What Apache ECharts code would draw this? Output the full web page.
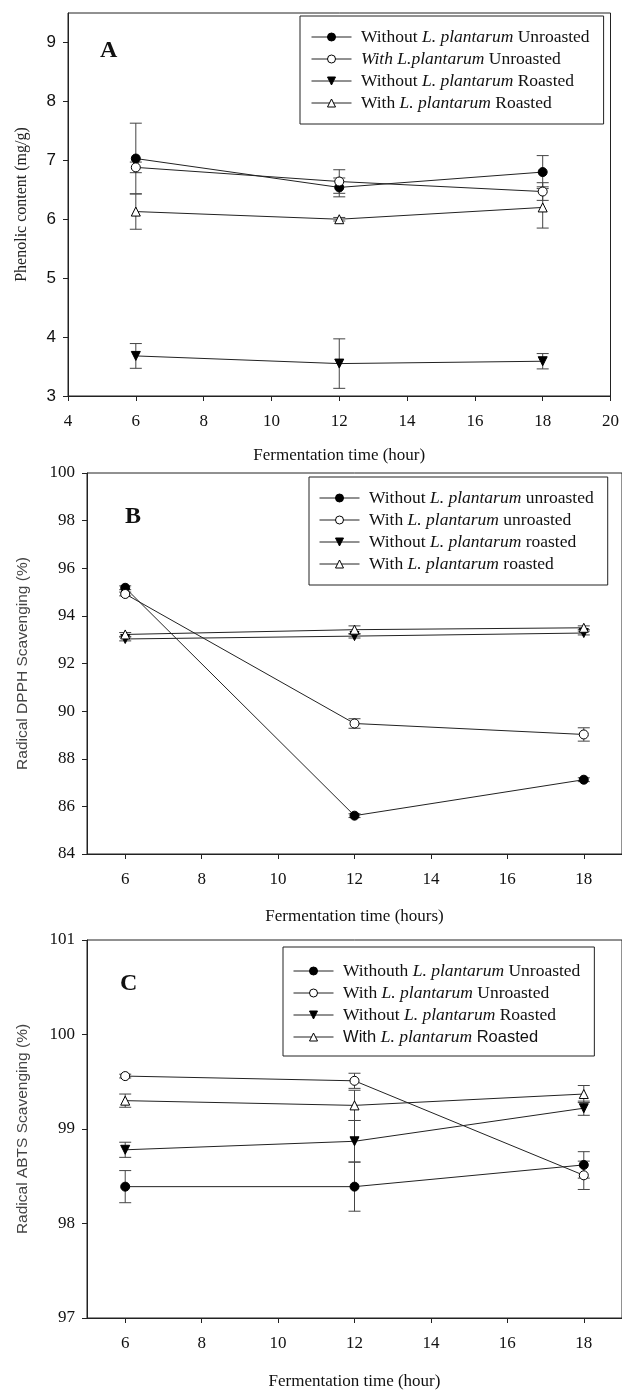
<!DOCTYPE html>
<html lang="en">
<head>
<meta charset="UTF-8">
<title>Fermentation panels</title>
<script src="https://cdn.jsdelivr.net/npm/echarts@6/dist/echarts.min.js"></script>
<style>
  html, body { margin: 0; padding: 0; background: #fff; }
</style>
</head>
<body>
<div id="main" style="width: 622px; height: 1391px;"></div>
<script type="text/javascript">
// fermentation hours (same for all three panels)
var hours = [6, 12, 18];

// A - phenolic content (mg/g)
var phenolWithoutUnroasted = [7.03, 6.54, 6.80];
var phenolWithoutUnroastedErr = [0.6, 0.16, 0.28];
var phenolWithUnroasted = [6.88, 6.64, 6.47];
var phenolWithUnroastedErr = [0.09, 0.2, 0.15];
var phenolWithoutRoasted = [3.68, 3.55, 3.59];
var phenolWithoutRoastedErr = [0.21, 0.42, 0.13];
var phenolWithRoasted = [6.13, 6.0, 6.2];
var phenolWithRoastedErr = [0.3, 0.03, 0.35];

// B - DPPH scavenging (%)
var dpphWithoutUnroasted = [95.18, 85.61, 87.12];
var dpphWithoutUnroastedErr = [0.08, 0.08, 0.08];
var dpphWithUnroasted = [94.92, 89.48, 89.02];
var dpphWithUnroastedErr = [0.08, 0.2, 0.28];
var dpphWithoutRoasted = [93.03, 93.15, 93.28];
var dpphWithoutRoastedErr = [0.08, 0.08, 0.08];
var dpphWithRoasted = [93.22, 93.42, 93.5];
var dpphWithRoastedErr = [0.08, 0.16, 0.08];

// C - ABTS scavenging (%)
var abtsWithoutUnroasted = [98.39, 98.39, 98.62];
var abtsWithoutUnroastedErr = [0.17, 0.26, 0.14];
var abtsWithUnroasted = [99.56, 99.51, 98.51];
var abtsWithUnroastedErr = [0.02, 0.08, 0.15];
var abtsWithoutRoasted = [98.78, 98.87, 99.22];
var abtsWithoutRoastedErr = [0.08, 0.22, 0.075];
var abtsWithRoasted = [99.3, 99.25, 99.37];
var abtsWithRoastedErr = [0.07, 0.16, 0.09];

// tick labels
var xTicksA = [4, 6, 8, 10, 12, 14, 16, 18, 20];
var xTicksBC = [6, 8, 10, 12, 14, 16, 18];
var yTicksA = [3, 4, 5, 6, 7, 8, 9];
var yTicksB = [84, 86, 88, 90, 92, 94, 96, 98, 100];
var yTicksC = [97, 98, 99, 100, 101];

// legend texts (rich markup for italics)
var legendA = {
    A1: ' Without {i|L. plantarum} Unroasted',
    A2: ' {i|With L.plantarum} Unroasted',
    A3: ' Without {i|L. plantarum} Roasted',
    A4: ' With {i|L. plantarum} Roasted'
};
var legendB = {
    B1: ' Without {i|L. plantarum} unroasted',
    B2: ' With {i|L. plantarum} unroasted',
    B3: ' Without {i|L. plantarum} roasted',
    B4: ' With {i|L. plantarum} roasted'
};
var legendC = {
    C1: ' Withouth {i|L. plantarum} Unroasted',
    C2: ' With {i|L. plantarum} Unroasted',
    C3: ' Without {i|L. plantarum} Roasted',
    C4: '{s| With }{si|L. plantarum}{s| Roasted}'
};

var SERIF = 'Liberation Serif';
var SANS = 'Liberation Sans';
var INK = '#222';
var downTri = 'path://M0,0 L10,0 L5,10 Z';

var markers = [
    { symbol: 'circle', itemStyle: { color: '#000', borderColor: '#000', borderWidth: 1 } },
    { symbol: 'circle', itemStyle: { color: '#fff', borderColor: '#000', borderWidth: 1 } },
    { symbol: downTri, itemStyle: { color: '#000', borderColor: '#000', borderWidth: 1 } },
    { symbol: 'triangle', itemStyle: { color: '#fff', borderColor: '#000', borderWidth: 1 } }
];

function lineSeries(name, gi, idx, vals) {
    return {
        name: name,
        type: 'line',
        xAxisIndex: gi,
        yAxisIndex: gi,
        data: hours.map(function (h, i) { return [h, vals[i]]; }),
        symbol: markers[idx].symbol,
        symbolSize: 9,
        itemStyle: markers[idx].itemStyle,
        lineStyle: { color: INK, width: 1 },
        z: 3,
        animation: false
    };
}

function errSeries(gi, vals, errs) {
    return {
        type: 'custom',
        xAxisIndex: gi,
        yAxisIndex: gi,
        data: hours.map(function (h, i) { return [h, vals[i] - errs[i], vals[i] + errs[i]]; }),
        encode: { x: 0, y: [1, 2] },
        z: 2,
        silent: true,
        animation: false,
        renderItem: function (params, api) {
            var top = api.coord([api.value(0), api.value(2)]);
            var bot = api.coord([api.value(0), api.value(1)]);
            var w = 6;
            var st = { stroke: '#444', lineWidth: 1 };
            return {
                type: 'group',
                children: [
                    { type: 'line', shape: { x1: top[0], y1: top[1], x2: bot[0], y2: bot[1] }, style: st },
                    { type: 'line', shape: { x1: top[0] - w, y1: top[1], x2: top[0] + w, y2: top[1] }, style: st },
                    { type: 'line', shape: { x1: bot[0] - w, y1: bot[1], x2: bot[0] + w, y2: bot[1] }, style: st }
                ]
            };
        }
    };
}

function xAxis(gi, min, max, ticks, title, gap) {
    return {
        type: 'value', gridIndex: gi, min: min, max: max,
        splitLine: { show: false },
        axisLine: { lineStyle: { color: INK, width: 1 } },
        axisTick: { length: 5, lineStyle: { color: INK }, customValues: ticks },
        axisLabel: { customValues: ticks, margin: 17, fontFamily: SERIF, fontSize: 17, color: '#111' },
        name: title, nameLocation: 'middle', nameGap: gap,
        nameTextStyle: { fontFamily: SERIF, fontSize: 17, color: '#111' }
    };
}

function yAxis(gi, min, max, ticks, title, gap, labelFont, titleFont, titleSize, titleColor) {
    return {
        type: 'value', gridIndex: gi, min: min, max: max,
        splitLine: { show: false },
        axisLine: { show: true, lineStyle: { color: INK, width: 1 } },
        axisTick: { show: true, length: 5, lineStyle: { color: INK }, customValues: ticks },
        axisLabel: { customValues: ticks, margin: 12, fontFamily: labelFont, fontSize: 17, color: '#111' },
        name: title, nameLocation: 'middle', nameGap: gap, nameRotate: 90,
        nameTextStyle: { fontFamily: titleFont, fontSize: titleSize, color: titleColor }
    };
}

function legend(keys, texts, left, top, padding) {
    return {
        orient: 'vertical', left: left, top: top,
        itemWidth: 40, itemHeight: 10, itemGap: 2,
        padding: padding,
        borderColor: INK, borderWidth: 1, backgroundColor: '#fff',
        selectedMode: false,
        lineStyle: { width: 1, color: INK },
        itemStyle: { borderWidth: 1, borderColor: '#000' },
        data: keys,
        formatter: function (n) { return texts[n]; },
        textStyle: {
            fontFamily: SERIF, fontSize: 17.5, color: '#111', lineHeight: 20,
            rich: {
                i: { fontFamily: SERIF, fontStyle: 'italic', fontSize: 17.5, color: '#111', lineHeight: 20 },
                s: { fontFamily: SANS, fontSize: 16.5, color: '#111', lineHeight: 20 },
                si: { fontFamily: SERIF, fontStyle: 'italic', fontSize: 17.5, color: '#111', lineHeight: 20 }
            }
        }
    };
}

var myChart = echarts.init(document.getElementById('main'), null, { renderer: 'canvas' });

var option = {
    backgroundColor: '#fff',
    animation: false,
    grid: [
        { left: 68, top: 13, width: 544, height: 383, show: true, borderColor: INK, borderWidth: 1 },
        { left: 87, top: 473, width: 542, height: 381, show: true, borderColor: INK, borderWidth: 1 },
        { left: 87, top: 940, width: 542, height: 381, show: true, borderColor: INK, borderWidth: 1 }
    ],
    xAxis: [
        xAxis(0, 4, 20, xTicksA, 'Fermentation time (hour)', 51),
        xAxis(1, 5, 19, xTicksBC, 'Fermentation time (hours)', 54),
        xAxis(2, 5, 19, xTicksBC, 'Fermentation time (hour)', 55)
    ],
    yAxis: [
        yAxis(0, 3, 9.5, yTicksA, 'Phenolic content (mg/g)', 38, SANS, SERIF, 16, '#222'),
        yAxis(1, 84, 100, yTicksB, 'Radical DPPH Scavenging (%)', 56, SERIF, SANS, 15.5, '#444'),
        yAxis(2, 97, 101, yTicksC, 'Radical ABTS Scavenging (%)', 56, SERIF, SANS, 15.5, '#444')
    ],
    legend: [
        legend(['A1', 'A2', 'A3', 'A4'], legendA, 300, 16, [11, 14, 11, 11]),
        legend(['B1', 'B2', 'B3', 'B4'], legendB, 309, 477, [11, 14, 11, 10]),
        legend(['C1', 'C2', 'C3', 'C4'], legendC, 283, 947, [14, 14, 9, 10])
    ],
    graphic: [
        { type: 'text', left: 100, top: 39, style: { text: 'A', font: 'bold 24px "Liberation Serif"', fill: '#111' } },
        { type: 'text', left: 125, top: 505, style: { text: 'B', font: 'bold 24px "Liberation Serif"', fill: '#111' } },
        { type: 'text', left: 120, top: 972, style: { text: 'C', font: 'bold 24px "Liberation Serif"', fill: '#111' } }
    ],
    series: [
        errSeries(0, phenolWithoutUnroasted, phenolWithoutUnroastedErr),
        errSeries(0, phenolWithUnroasted, phenolWithUnroastedErr),
        errSeries(0, phenolWithoutRoasted, phenolWithoutRoastedErr),
        errSeries(0, phenolWithRoasted, phenolWithRoastedErr),
        lineSeries('A1', 0, 0, phenolWithoutUnroasted),
        lineSeries('A2', 0, 1, phenolWithUnroasted),
        lineSeries('A3', 0, 2, phenolWithoutRoasted),
        lineSeries('A4', 0, 3, phenolWithRoasted),

        errSeries(1, dpphWithoutUnroasted, dpphWithoutUnroastedErr),
        errSeries(1, dpphWithUnroasted, dpphWithUnroastedErr),
        errSeries(1, dpphWithoutRoasted, dpphWithoutRoastedErr),
        errSeries(1, dpphWithRoasted, dpphWithRoastedErr),
        lineSeries('B1', 1, 0, dpphWithoutUnroasted),
        lineSeries('B2', 1, 1, dpphWithUnroasted),
        lineSeries('B3', 1, 2, dpphWithoutRoasted),
        lineSeries('B4', 1, 3, dpphWithRoasted),

        errSeries(2, abtsWithoutUnroasted, abtsWithoutUnroastedErr),
        errSeries(2, abtsWithUnroasted, abtsWithUnroastedErr),
        errSeries(2, abtsWithoutRoasted, abtsWithoutRoastedErr),
        errSeries(2, abtsWithRoasted, abtsWithRoastedErr),
        lineSeries('C1', 2, 0, abtsWithoutUnroasted),
        lineSeries('C2', 2, 1, abtsWithUnroasted),
        lineSeries('C3', 2, 2, abtsWithoutRoasted),
        lineSeries('C4', 2, 3, abtsWithRoasted)
    ]
};

myChart.setOption(option);
</script>
</body>
</html>
